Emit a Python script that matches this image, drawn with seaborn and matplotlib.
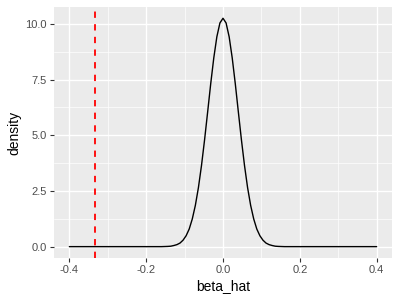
import matplotlib
matplotlib.use("Agg")
import matplotlib.pyplot as plt
import seaborn as sns
import pandas as pd
from matplotlib.ticker import MultipleLocator

# Density curve (tails are flat at 0)
beta_hat = [-0.4,
            -0.16, -0.152, -0.144, -0.136, -0.128, -0.12, -0.112, -0.104, -0.096, -0.088,
            -0.08, -0.072, -0.064, -0.056, -0.048, -0.04, -0.032, -0.024, -0.016, -0.008,
            0.0,
            0.008, 0.016, 0.024, 0.032, 0.04, 0.048, 0.056, 0.064, 0.072, 0.08,
            0.088, 0.096, 0.104, 0.112, 0.12, 0.128, 0.136, 0.144, 0.152, 0.16,
            0.4]
density = [0.0,
           0.0, 0.005, 0.01, 0.02, 0.05, 0.09, 0.16, 0.29, 0.49, 0.79,
           1.24, 1.85, 2.65, 3.64, 4.79, 6.04, 7.31, 8.47, 9.42, 10.04,
           10.25,
           10.04, 9.42, 8.47, 7.31, 6.04, 4.79, 3.64, 2.65, 1.85, 1.24,
           0.79, 0.49, 0.29, 0.16, 0.09, 0.05, 0.02, 0.01, 0.005, 0.0,
           0.0]
vline_x = -0.333

x_ticks = [-0.4, -0.2, 0.0, 0.2, 0.4]
y_ticks = [0.0, 2.5, 5.0, 7.5, 10.0]

df = pd.DataFrame({"beta_hat": beta_hat, "density": density})

sns.set_theme(style="darkgrid")
plt.rcParams["font.family"] = ["Liberation Sans", "DejaVu Sans"]

fig = plt.figure(figsize=(4, 3), dpi=100)
ax = fig.add_axes([0.135, 0.14, 0.845, 0.837])
ax.set_facecolor("#EBEBEB")

sns.lineplot(data=df, x="beta_hat", y="density", color="black", linewidth=1.0, ax=ax)
ax.axvline(vline_x, color="#FF0000", linestyle=(0, (3.5, 3.5)), linewidth=1.3)

ax.set_xlim(-0.44, 0.44)
ax.set_ylim(-0.51, 10.76)
ax.set_xticks(x_ticks)
ax.set_yticks(y_ticks)
ax.set_xticklabels([f"{v:.1f}" for v in x_ticks])
ax.set_yticklabels([f"{v:.1f}" for v in y_ticks])
ax.xaxis.set_minor_locator(MultipleLocator(0.1))
ax.yaxis.set_minor_locator(MultipleLocator(1.25))

ax.grid(which="major", color="white", linewidth=1.0)
ax.grid(which="minor", color="white", linewidth=0.5)
ax.set_axisbelow(True)
for s in ax.spines.values():
    s.set_visible(False)

ax.tick_params(axis="both", which="major", length=3, width=0.8, color="#333333",
               labelsize=8, labelcolor="#4D4D4D", pad=2, bottom=True, left=True)
ax.tick_params(axis="both", which="minor", length=0)

ax.set_xlabel("beta_hat", fontsize=10, color="black", labelpad=3)
ax.set_ylabel("density", fontsize=10, color="black", labelpad=3)

fig.savefig("out.png", dpi=100)
